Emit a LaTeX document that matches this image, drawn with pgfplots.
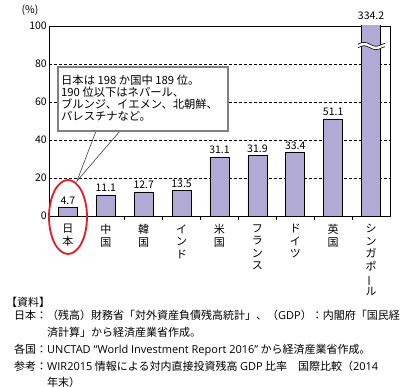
\documentclass[border=0pt]{standalone}
\usepackage{fontspec}
\setmainfont{Noto Sans CJK JP}
\newfontfamily\lat{Open Sans}
\usepackage{graphicx}
\usepackage{pgfplots}
\pgfplotsset{compat=1.18}
\definecolor{barc}{RGB}{176,170,212}
\definecolor{ellred}{RGB}{222,30,36}
\newcommand{\fs}[2]{\fontsize{#1bp}{#2bp}\selectfont}
\begin{document}
\begin{tikzpicture}[x=1bp,y=1bp]
\useasboundingbox (0,0) rectangle (415,388);
\begin{axis}[
  at={(49bp,172bp)}, anchor=south west,
  scale only axis, width=341bp, height=190bp,
  xmin=-0.5, xmax=8.5, ymin=0, ymax=100,
  clip mode=individual,
  /pgf/number format/assume math mode=true,
  axis line style={line width=0.8bp},
  ytick={0,20,...,100},
  ymajorgrids,
  grid style={dash pattern=on 3bp off 2bp, line width=0.6bp, black},
  major y tick style={draw=none},
  yticklabel style={font=\fs{10.5}{12}, inner sep=2bp},
  xtick={0,...,8},
  major x tick style={draw=none},
  minor xtick={0.5,1.5,...,7.5},
  minor x tick style={line width=0.7bp, black},
  minor tick length=4bp,
  tick align=inside,
  tick pos=left,
  xticklabels={{日\\本},{中\\国},{韓\\国},{イ\\ン\\ド},{米\\国},{フ\\ラ\\ン\\ス},{ド\\イ\\ツ},{英\\国},{シ\\ン\\ガ\\ポ\\{\rotatebox[origin=c]{90}{ー}}\\ル}},
  xticklabel style={align=center, font=\fs{11}{12.5}, anchor=north, inner sep=4bp},
  ybar, bar width=19bp,
]
\addplot[fill=barc, draw=black, line width=0.7bp, bar shift=0pt,
  nodes near coords={\pgfmathprintnumber[fixed,fixed zerofill,precision=1]{\pgfplotspointmeta}},
  every node near coord/.append style={font=\fs{10.5}{12}, black, inner sep=2.5bp}]
  coordinates {(0,4.7) (1,11.1) (2,12.7) (3,13.5) (4,31.1) (5,31.9) (6,33.4) (7,51.1)};
\addplot[fill=barc, draw=black, line width=0.7bp, bar shift=0pt]
  coordinates {(8,334.2)};
\node[font=\fs{10.5}{12}, anchor=south, inner sep=6bp] at (axis cs:8,100) {334.2};
\end{axis}
% unit label
\node[anchor=base, inner sep=0pt, font=\fs{10.5}{12}] at (30,375) {(\%)};
% break mark on the Singapore bar
\draw[white, line width=3.2bp] (358,342) sin (364,344) cos (370,342) sin (376,340) cos (382,342) sin (385,343);
\draw[black, line width=0.6bp] (358,343.7) sin (364,345.7) cos (370,343.7) sin (376,341.7) cos (382,343.7) sin (385,344.7);
\draw[black, line width=0.6bp] (358,340.3) sin (364,342.3) cos (370,340.3) sin (376,338.3) cos (382,340.3) sin (385,341.3);
% red ellipse
\draw[ellred, line width=1.8bp] (68,171) ellipse [x radius=19, y radius=37];
% callout
\draw[black!75, line width=0.6bp] (96,257) -- (77,207) -- (120,257);
\draw[gray, line width=1.5bp, fill=white] (58,257) rectangle (228,321);
\node[anchor=north west, inner sep=0pt, align=left, font=\fs{11.3}{12.2}] at (61,313.5)
  {日本は 198 か国中 189 位。\\190 位以下はネパール、\\ブルンジ、イエメン、北朝鮮、\\パレスチナなど。};
% source notes
\node[anchor=north west, inner sep=0pt, align=left, font=\fs{11}{16.8}] at (6,91.5) {%
【資料】\\
\hspace*{8bp}\begin{tabular}{@{}l@{}l@{}}
日本：&（残高）財務省「対外資産負債残高統計」、（{\lat GDP}）：内閣府「国民経\\
&済計算」から経済産業省作成。\\
各国：&{\lat UNCTAD “World Investment Report 2016”} から経済産業省作成。\\
参考：&{\lat WIR2015} 情報による対内直接投資残高 {\lat GDP} 比率　国際比較（{\lat 2014}\\
&年末）
\end{tabular}};
\end{tikzpicture}
\end{document}
